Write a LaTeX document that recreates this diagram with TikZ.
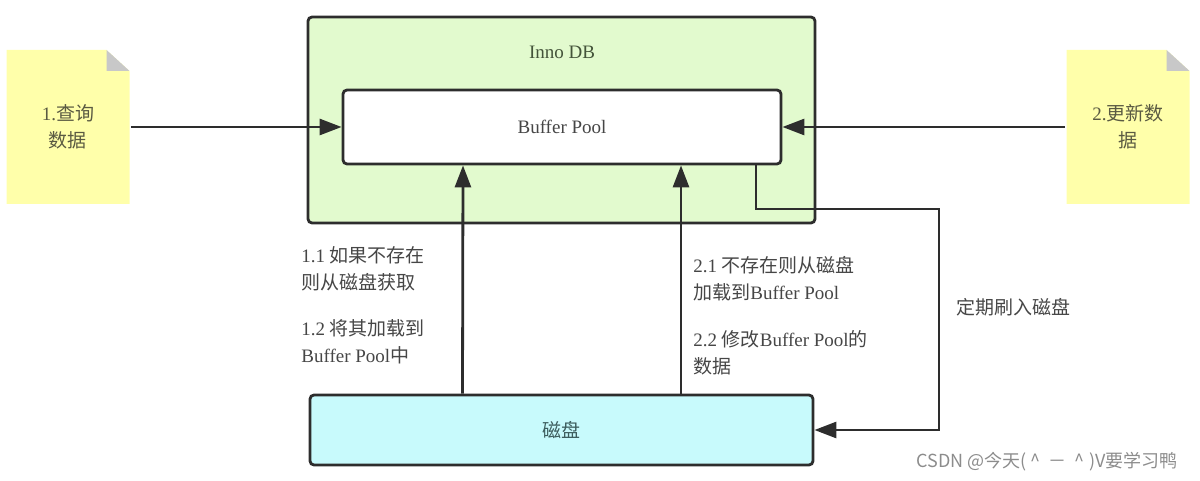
\documentclass[tikz,border=0pt]{standalone}
\usepackage{fontspec}
\setmainfont{Liberation Serif}
\newfontfamily\cjk{Noto Sans CJK SC}
\usetikzlibrary{arrows.meta,positioning}
\definecolor{innogreen}{RGB}{226,250,206}
\definecolor{diskcyan}{RGB}{200,250,252}
\definecolor{noteyellow}{RGB}{255,255,170}
\definecolor{foldgray}{RGB}{200,200,200}
\definecolor{linegray}{RGB}{45,45,45}
\definecolor{textgray}{RGB}{70,70,70}
\definecolor{greentext}{RGB}{68,84,58}
\definecolor{notetext}{RGB}{90,90,66}
\definecolor{disktext}{RGB}{60,92,92}

\begin{document}
\begin{tikzpicture}[x=1pt,y=-1pt,->,>={Triangle[length=22pt,width=16pt]},
	line width=2.8pt,draw=linegray,
	box font/.style={font=\fontsize{19}{27}\selectfont},
	inno box/.style={draw=linegray,fill=innogreen,rounded corners=4pt,
		minimum width=507pt,minimum height=206pt},
	pool box/.style={draw=linegray,fill=white,rounded corners=4pt,box font,
		text=textgray,minimum width=438pt,minimum height=74pt},
	disk box/.style={draw=linegray,fill=diskcyan,rounded corners=4pt,box font,
		text=disktext,minimum width=503pt,minimum height=70pt},
	note/.style={minimum width=123pt,minimum height=154pt,align=center,
		text=notetext,box font,path picture={
		\fill[noteyellow] (path picture bounding box.south west)
			|- ([xshift=-23pt]path picture bounding box.north east)
			-- ([yshift=-21pt]path picture bounding box.north east)
			|- cycle;
		\fill[foldgray] ([xshift=-23pt]path picture bounding box.north east)
			-- ([xshift=-23pt,yshift=-21pt]path picture bounding box.north east)
			-- ([yshift=-21pt]path picture bounding box.north east) -- cycle;}},
	hint/.style={align=left,anchor=west,inner sep=0pt,box font,text=textgray},
	watermark/.style={inner sep=0pt,font=\cjk\fontsize{18}{21}\selectfont,
		text=black!45}]
\useasboundingbox (0,0) rectangle (1200,481);
% storage engine
\node[inno box] (inno) at (561.5,120) {};
\node[box font,text=greentext] (innolabel) at (562,52) {Inno DB};
\node[pool box] (pool) at (562,127) {Buffer Pool};
\node[disk box] (disk) at (561.5,430) {\cjk 磁盘};
% requests
\node[note] (query) at (68,127) {1.{\cjk 查询}\\{\cjk 数据}};
\node[note] (update) at (1128,127) {2.{\cjk 更新数}\\{\cjk 据}};
\coordinate (flushcorner) at (939,209);
\path
	(query) edge (pool)
	(update) edge (pool)
	([xshift=-99pt]disk.north) edge ([xshift=-99pt]pool.south)
	([xshift=119.5pt]disk.north) edge ([xshift=119pt]pool.south);
\draw ([xshift=194pt]pool.south) |- (flushcorner) |- (disk.east);
% notes on the arrows
\node[hint] (load1) at (300,269) {1.1 {\cjk 如果不存在}\\{\cjk 则从磁盘获取}};
\node[hint] (load2) at (300,342) {1.2 {\cjk 将其加载到}\\Buffer Pool{\cjk 中}};
\node[hint] (modify1) at (692,279) {2.1 {\cjk 不存在则从磁盘}\\{\cjk 加载到}Buffer Pool};
\node[hint] (modify2) at (692,353) {2.2 {\cjk 修改}Buffer Pool{\cjk 的}\\{\cjk 数据}};
\node[hint] (flush) at (955,307) {\cjk 定期刷入磁盘};
\node[watermark] (csdn) at (1047,462) {CSDN @今天(\ \^{}\ \ －\ \ \^{}\ )V要学习鸭};
\end{tikzpicture}
\end{document}
